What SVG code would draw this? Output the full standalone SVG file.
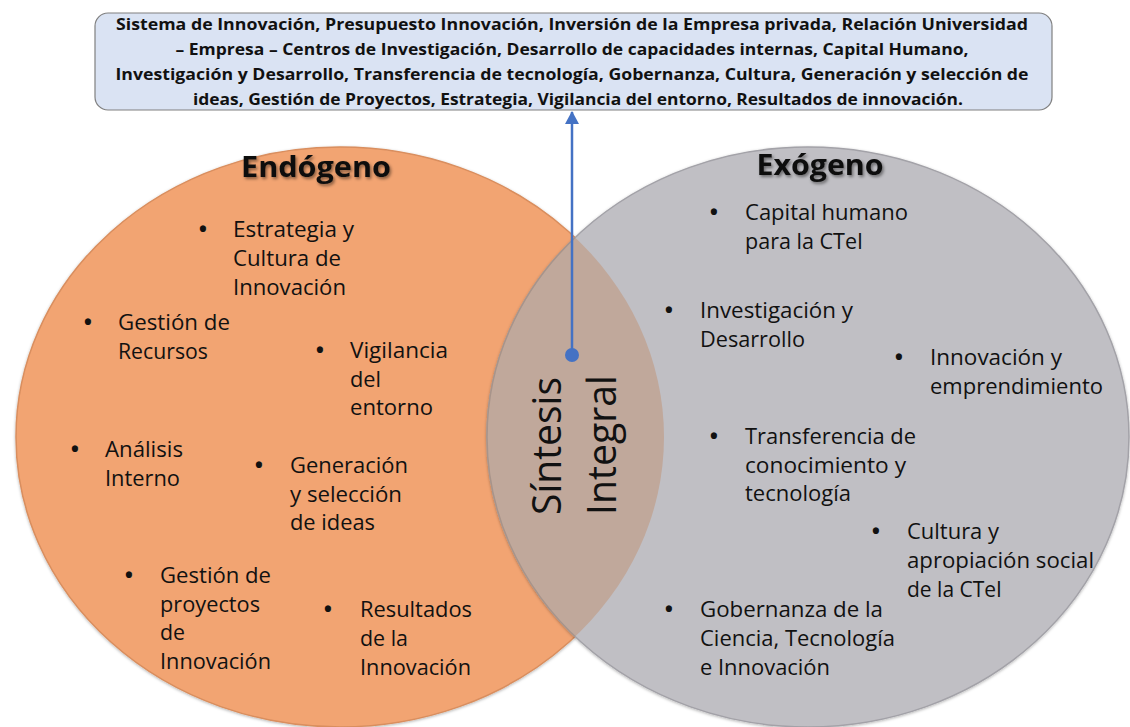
<svg xmlns="http://www.w3.org/2000/svg" width="1130" height="727" viewBox="0 0 1130 727">
<style>
.hdr{font-family:"Open Sans","Liberation Sans",sans-serif;font-weight:700;font-size:15.5px;fill:#111;text-anchor:middle}
.ttl{font-family:"Open Sans","Liberation Sans",sans-serif;font-weight:700;font-size:28px;fill:#111;text-anchor:middle}
.it{font-family:"Open Sans","Liberation Sans",sans-serif;font-size:21px;fill:#111}
.bl{font-family:"Open Sans","Liberation Sans",sans-serif;font-size:22px;font-weight:700;fill:#111;text-anchor:middle}
.syn{font-family:"Open Sans","Liberation Sans",sans-serif;font-weight:400;font-size:40px;fill:#111;text-anchor:middle}
</style>
<defs>
<filter id="sh" x="-20%" y="-40%" width="140%" height="180%">
<feDropShadow dx="1.5" dy="2" stdDeviation="1.5" flood-color="#000" flood-opacity="0.45"/>
</filter>
<filter id="cs" x="-10%" y="-10%" width="120%" height="120%">
<feDropShadow dx="0" dy="1" stdDeviation="1.5" flood-color="#000" flood-opacity="0.3"/>
</filter>
<clipPath id="leftClip"><ellipse cx="340" cy="437" rx="324" ry="290"/></clipPath>
<marker id="ah" viewBox="0 0 13 14" refX="12" refY="7" markerWidth="13" markerHeight="14" orient="auto" markerUnits="userSpaceOnUse">
<path d="M0,0 L13,7 L0,14 z" fill="#4472C4"/>
</marker>
</defs>
<rect width="1130" height="727" fill="#ffffff"/>

<g id="endogeno">
<ellipse cx="340" cy="437" rx="324" ry="290" fill="#F2A472" stroke="#D98E5E" stroke-width="1.5" filter="url(#cs)"/>
</g>
<g id="exogeno">
<ellipse cx="808" cy="437" rx="321" ry="290" fill="#C0BFC4" stroke="#A3A2A8" stroke-width="1.5" filter="url(#cs)"/>
</g>
<g id="interseccion">
<ellipse cx="808" cy="437" rx="321" ry="290" fill="#C0A89B" stroke="#A8948A" stroke-width="1.5" clip-path="url(#leftClip)"/>
</g>

<g id="titulo-endogeno"><text class="ttl" x="316" y="177" textLength="150" lengthAdjust="spacingAndGlyphs" filter="url(#sh)">Endógeno</text></g>
<g id="titulo-exogeno"><text class="ttl" x="820" y="175" textLength="127" lengthAdjust="spacingAndGlyphs" filter="url(#sh)">Exógeno</text></g>

<g id="sintesis">
<text class="syn" transform="translate(561,446) rotate(-90)" textLength="138" lengthAdjust="spacingAndGlyphs">Síntesis</text>
<text class="syn" transform="translate(616,445) rotate(-90)" textLength="140" lengthAdjust="spacingAndGlyphs">Integral</text>
</g>

<g id="resumen">
<rect x="95" y="13" width="957" height="97" rx="13" fill="#DAE3F3" stroke="#808080" stroke-width="1.2"/>
<text class="hdr" x="572" y="30" textLength="912" lengthAdjust="spacingAndGlyphs">Sistema de Innovación, Presupuesto Innovación, Inversión de la Empresa privada, Relación Universidad</text>
<text class="hdr" x="572" y="55" textLength="793" lengthAdjust="spacingAndGlyphs">– Empresa – Centros de Investigación, Desarrollo de capacidades internas, Capital Humano,</text>
<text class="hdr" x="572" y="80" textLength="913" lengthAdjust="spacingAndGlyphs">Investigación y Desarrollo, Transferencia de tecnología, Gobernanza, Cultura, Generación y selección de</text>
<text class="hdr" x="578" y="105" textLength="770" lengthAdjust="spacingAndGlyphs">ideas, Gestión de Proyectos, Estrategia, Vigilancia del entorno, Resultados de innovación.</text>
</g>

<g id="item-estrategia">
<text class="bl" x="203" y="237">•</text>
<text class="it" x="233" y="237" textLength="121" lengthAdjust="spacingAndGlyphs">Estrategia y</text>
<text class="it" x="233" y="266" textLength="108" lengthAdjust="spacingAndGlyphs">Cultura de</text>
<text class="it" x="233" y="295" textLength="113" lengthAdjust="spacingAndGlyphs">Innovación</text>
</g>
<g id="item-recursos">
<text class="bl" x="88" y="330">•</text>
<text class="it" x="118" y="330" textLength="112" lengthAdjust="spacingAndGlyphs">Gestión de</text>
<text class="it" x="118" y="359" textLength="90" lengthAdjust="spacingAndGlyphs">Recursos</text>
</g>
<g id="item-vigilancia">
<text class="bl" x="320" y="358">•</text>
<text class="it" x="350" y="358" textLength="98" lengthAdjust="spacingAndGlyphs">Vigilancia</text>
<text class="it" x="350" y="387" textLength="31" lengthAdjust="spacingAndGlyphs">del</text>
<text class="it" x="350" y="415" textLength="83" lengthAdjust="spacingAndGlyphs">entorno</text>
</g>
<g id="item-analisis">
<text class="bl" x="75" y="457">•</text>
<text class="it" x="105" y="457" textLength="78" lengthAdjust="spacingAndGlyphs">Análisis</text>
<text class="it" x="105" y="486" textLength="75" lengthAdjust="spacingAndGlyphs">Interno</text>
</g>
<g id="item-generacion">
<text class="bl" x="259" y="473">•</text>
<text class="it" x="290" y="473" textLength="118" lengthAdjust="spacingAndGlyphs">Generación</text>
<text class="it" x="290" y="502" textLength="112" lengthAdjust="spacingAndGlyphs">y selección</text>
<text class="it" x="290" y="530" textLength="85" lengthAdjust="spacingAndGlyphs">de ideas</text>
</g>
<g id="item-proyectos">
<text class="bl" x="129" y="583">•</text>
<text class="it" x="160" y="583" textLength="111" lengthAdjust="spacingAndGlyphs">Gestión de</text>
<text class="it" x="160" y="612" textLength="100" lengthAdjust="spacingAndGlyphs">proyectos</text>
<text class="it" x="160" y="640" textLength="25" lengthAdjust="spacingAndGlyphs">de</text>
<text class="it" x="160" y="669" textLength="111" lengthAdjust="spacingAndGlyphs">Innovación</text>
</g>
<g id="item-resultados">
<text class="bl" x="328" y="617">•</text>
<text class="it" x="360" y="617" textLength="112" lengthAdjust="spacingAndGlyphs">Resultados</text>
<text class="it" x="360" y="646" textLength="48" lengthAdjust="spacingAndGlyphs">de la</text>
<text class="it" x="360" y="675" textLength="111" lengthAdjust="spacingAndGlyphs">Innovación</text>
</g>

<g id="item-capital">
<text class="bl" x="714" y="220">•</text>
<text class="it" x="745" y="220" textLength="163" lengthAdjust="spacingAndGlyphs">Capital humano</text>
<text class="it" x="745" y="249" textLength="118" lengthAdjust="spacingAndGlyphs">para la CTeI</text>
</g>
<g id="item-investigacion">
<text class="bl" x="669" y="318">•</text>
<text class="it" x="700" y="318" textLength="153" lengthAdjust="spacingAndGlyphs">Investigación y</text>
<text class="it" x="700" y="347" textLength="105" lengthAdjust="spacingAndGlyphs">Desarrollo</text>
</g>
<g id="item-innovacion">
<text class="bl" x="899" y="365">•</text>
<text class="it" x="930" y="365" textLength="132" lengthAdjust="spacingAndGlyphs">Innovación y</text>
<text class="it" x="930" y="394" textLength="173" lengthAdjust="spacingAndGlyphs">emprendimiento</text>
</g>
<g id="item-transferencia">
<text class="bl" x="714" y="444">•</text>
<text class="it" x="745" y="444" textLength="171" lengthAdjust="spacingAndGlyphs">Transferencia de</text>
<text class="it" x="745" y="473" textLength="161" lengthAdjust="spacingAndGlyphs">conocimiento y</text>
<text class="it" x="745" y="501" textLength="106" lengthAdjust="spacingAndGlyphs">tecnología</text>
</g>
<g id="item-cultura">
<text class="bl" x="876" y="539">•</text>
<text class="it" x="907" y="539" textLength="92" lengthAdjust="spacingAndGlyphs">Cultura y</text>
<text class="it" x="907" y="568" textLength="187" lengthAdjust="spacingAndGlyphs">apropiación social</text>
<text class="it" x="907" y="597" textLength="95" lengthAdjust="spacingAndGlyphs">de la CTeI</text>
</g>
<g id="item-gobernanza">
<text class="bl" x="669" y="617">•</text>
<text class="it" x="700" y="617" textLength="183" lengthAdjust="spacingAndGlyphs">Gobernanza de la</text>
<text class="it" x="700" y="646" textLength="195" lengthAdjust="spacingAndGlyphs">Ciencia, Tecnología</text>
<text class="it" x="700" y="675" textLength="130" lengthAdjust="spacingAndGlyphs">e Innovación</text>
</g>

<g id="conectores">
<line x1="572" y1="355" x2="572" y2="112" stroke="#4472C4" stroke-width="2.5" marker-end="url(#ah)"/>
<circle cx="572" cy="355" r="7" fill="#4472C4"/>
</g>
</svg>
